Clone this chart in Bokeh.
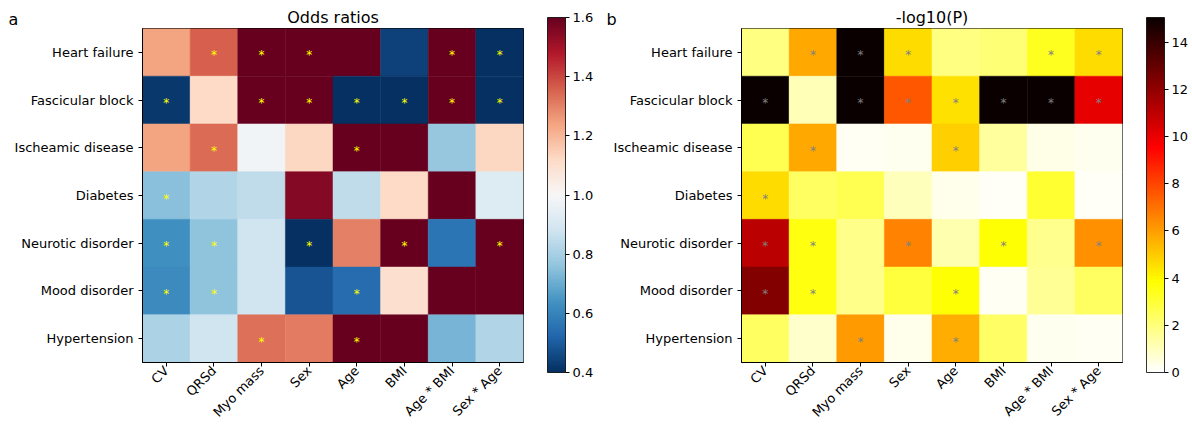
import numpy as np
from bokeh.plotting import figure
from bokeh.models import (LinearColorMapper, ColumnDataSource, Label, FixedTicker,
                          CustomJSTickFormatter, ColorBar)
from bokeh.layouts import row
from bokeh.embed import file_html
from bokeh.resources import INLINE
from bokeh.core.properties import value

# ---------------- data ----------------
diseases = ["Heart failure", "Fascicular block", "Ischeamic disease", "Diabetes",
            "Neurotic disorder", "Mood disorder", "Hypertension"]
features = ["CV", "QRSd", "Myo mass", "Sex", "Age", "BMI", "Age * BMI", "Sex * Age"]

odds_ratios = [
    [1.24, 1.36, 1.75, 1.70, 1.65, 0.44, 1.70, 0.38],
    [0.42, 1.12, 1.70, 1.70, 0.38, 0.39, 1.70, 0.38],
    [1.24, 1.34, 0.98, 1.13, 1.65, 1.62, 0.77, 1.13],
    [0.75, 0.82, 0.85, 1.55, 0.85, 1.12, 1.65, 0.92],
    [0.63, 0.76, 0.88, 0.39, 1.30, 1.62, 0.56, 1.65],
    [0.62, 0.76, 0.88, 0.48, 0.54, 1.10, 1.65, 1.68],
    [0.81, 0.88, 1.33, 1.31, 1.70, 1.65, 0.72, 0.82],
]

neg_log10_p = [
    [1.9, 5.8, 15.05, 4.6, 1.9, 2.1, 3.4, 4.6],
    [15.05, 1.1, 15.05, 7.6, 4.5, 15.05, 15.05, 10.1],
    [2.6, 5.8, 0.2, 0.25, 4.9, 1.5, 0.4, 0.25],
    [4.6, 2.4, 2.6, 1.0, 0.35, 0.15, 3.1, 0.15],
    [11.1, 3.6, 1.8, 6.6, 1.2, 3.8, 1.75, 6.3],
    [12.3, 3.6, 1.8, 2.9, 3.8, 0.2, 1.6, 2.4],
    [2.4, 0.8, 6.1, 0.35, 5.7, 2.3, 0.25, 0.2],
]

significant = [
    [0, 1, 1, 1, 0, 0, 1, 1],
    [1, 0, 1, 1, 1, 1, 1, 1],
    [0, 1, 0, 0, 1, 0, 0, 0],
    [1, 0, 0, 0, 0, 0, 0, 0],
    [1, 1, 0, 1, 0, 1, 0, 1],
    [1, 1, 0, 0, 1, 0, 0, 0],
    [0, 0, 1, 0, 1, 0, 0, 0],
]

or_ticks = [0.4, 0.6, 0.8, 1.0, 1.2, 1.4, 1.6]
p_ticks = [0, 2, 4, 6, 8, 10, 12, 14]
or_low, or_high = 0.4, 1.6
p_low, p_high = 0.0, 15.05

FONT = "DejaVu Sans"

# ---------------- palettes ----------------
def to_hex(r, g, b):
    return "#%02x%02x%02x" % (int(round(r * 255)), int(round(g * 255)), int(round(b * 255)))

rdbu_keys = ["#053061", "#2166ac", "#4393c3", "#92c5de", "#d1e5f0", "#f7f7f7",
             "#fddbc7", "#f4a582", "#d6604d", "#b2182b", "#67001f"]
kp = np.linspace(0, 1, len(rdbu_keys))
krgb = np.array([[int(c[i:i + 2], 16) / 255 for i in (1, 3, 5)] for c in rdbu_keys])
tt = np.linspace(0, 1, 256)
rdbu_r = [to_hex(np.interp(t, kp, krgb[:, 0]), np.interp(t, kp, krgb[:, 1]),
                 np.interp(t, kp, krgb[:, 2])) for t in tt]

hot_r = []
for t in tt:
    s = 1 - t
    r = np.interp(s, [0, 0.365079, 1], [0.0416, 1, 1])
    g = np.interp(s, [0, 0.365079, 0.746032, 1], [0, 0, 1, 1])
    b = np.interp(s, [0, 0.746032, 1], [0, 0, 1])
    hot_r.append(to_hex(r, g, b))

H = 428
TOP = 28
FRAME_H = 335
FRAME_W = 381


def heatmap(matrix, mapper, star_color, title, panel, width, left, panel_x,
            cb_dx, ticks, digits):
    xs, ys, vals = [], [], []
    sx, sy = [], []
    for i, d in enumerate(diseases):
        for j, f in enumerate(features):
            xs.append(f)
            ys.append(d)
            vals.append(matrix[i][j])
            if significant[i][j]:
                sx.append(f)
                sy.append(d)
    src = ColumnDataSource(dict(x=xs, y=ys, v=vals))
    ssrc = ColumnDataSource(dict(x=sx, y=sy, s=["*"] * len(sx)))
    right = width - left - FRAME_W
    p = figure(width=width, height=H, x_range=features, y_range=list(reversed(diseases)),
               output_backend="svg", toolbar_location=None, title=title,
               min_border_left=left, min_border_right=right,
               min_border_top=TOP, min_border_bottom=H - TOP - FRAME_H)
    p.title.align = "center"
    p.title.text_font = FONT
    p.title.text_font_size = "16px"
    p.title.text_font_style = "normal"
    p.title.text_color = "black"
    p.title.standoff = 4
    p.rect(x="x", y="y", width=1, height=1, source=src,
           fill_color={"field": "v", "transform": mapper},
           line_color={"field": "v", "transform": mapper}, line_width=0.5)
    p.text(x="x", y="y", text="s", source=ssrc, text_align="center",
           text_baseline="middle", text_color=star_color,
           text_font=value(FONT), text_font_size="12px", y_offset=3)
    p.grid.visible = False
    p.outline_line_color = "black"
    p.outline_line_width = 1
    for ax in p.axis:
        ax.axis_line_color = "black"
        ax.major_tick_line_color = "black"
        ax.minor_tick_line_color = None
        ax.major_tick_in = 0
        ax.major_tick_out = 4
        ax.major_label_text_font = FONT
        ax.major_label_text_font_size = "13px"
        ax.major_label_text_color = "black"
        ax.major_label_standoff = 5
    p.xaxis.major_label_orientation = np.pi / 4
    p.xaxis.major_label_standoff = 2

    cb = ColorBar(color_mapper=mapper, location=(cb_dx, -10), width=18, height=355,
                  padding=0, margin=0, orientation="vertical",
                  ticker=FixedTicker(ticks=ticks),
                  formatter=CustomJSTickFormatter(code="return tick.toFixed(%d)" % digits),
                  bar_line_color="black", bar_line_width=0.8,
                  major_tick_line_color="black", major_tick_in=0, major_tick_out=4,
                  minor_tick_line_color=None,
                  major_label_text_font=FONT, major_label_text_font_size="13px",
                  major_label_text_color="black", label_standoff=3,
                  background_fill_color=None, border_line_color=None)
    p.add_layout(cb, "center")

    # panel letter: placed in the (empty) right side panel so it is not clipped
    p.add_layout(Label(x=panel_x - (left + FRAME_W), y=FRAME_H + 8,
                       x_units="screen", y_units="screen",
                       text=panel, text_font=FONT, text_font_size="16px",
                       text_color="black",
                       text_align="left", text_baseline="alphabetic"), "right")
    return p


or_mapper = LinearColorMapper(palette=rdbu_r, low=or_low, high=or_high)
p_mapper = LinearColorMapper(palette=hot_r, low=p_low, high=p_high)

figA = heatmap(odds_ratios, or_mapper, "#ffff00", "Odds ratios", "a",
               603, 142, 8, 405, or_ticks, 1)
figB = heatmap(neg_log10_p, p_mapper, "#808080", "-log10(P)", "b",
               589, 138, 3, 405, p_ticks, 0)

layout = row(figA, figB)
open("out.html", "w").write(file_html(layout, INLINE))
